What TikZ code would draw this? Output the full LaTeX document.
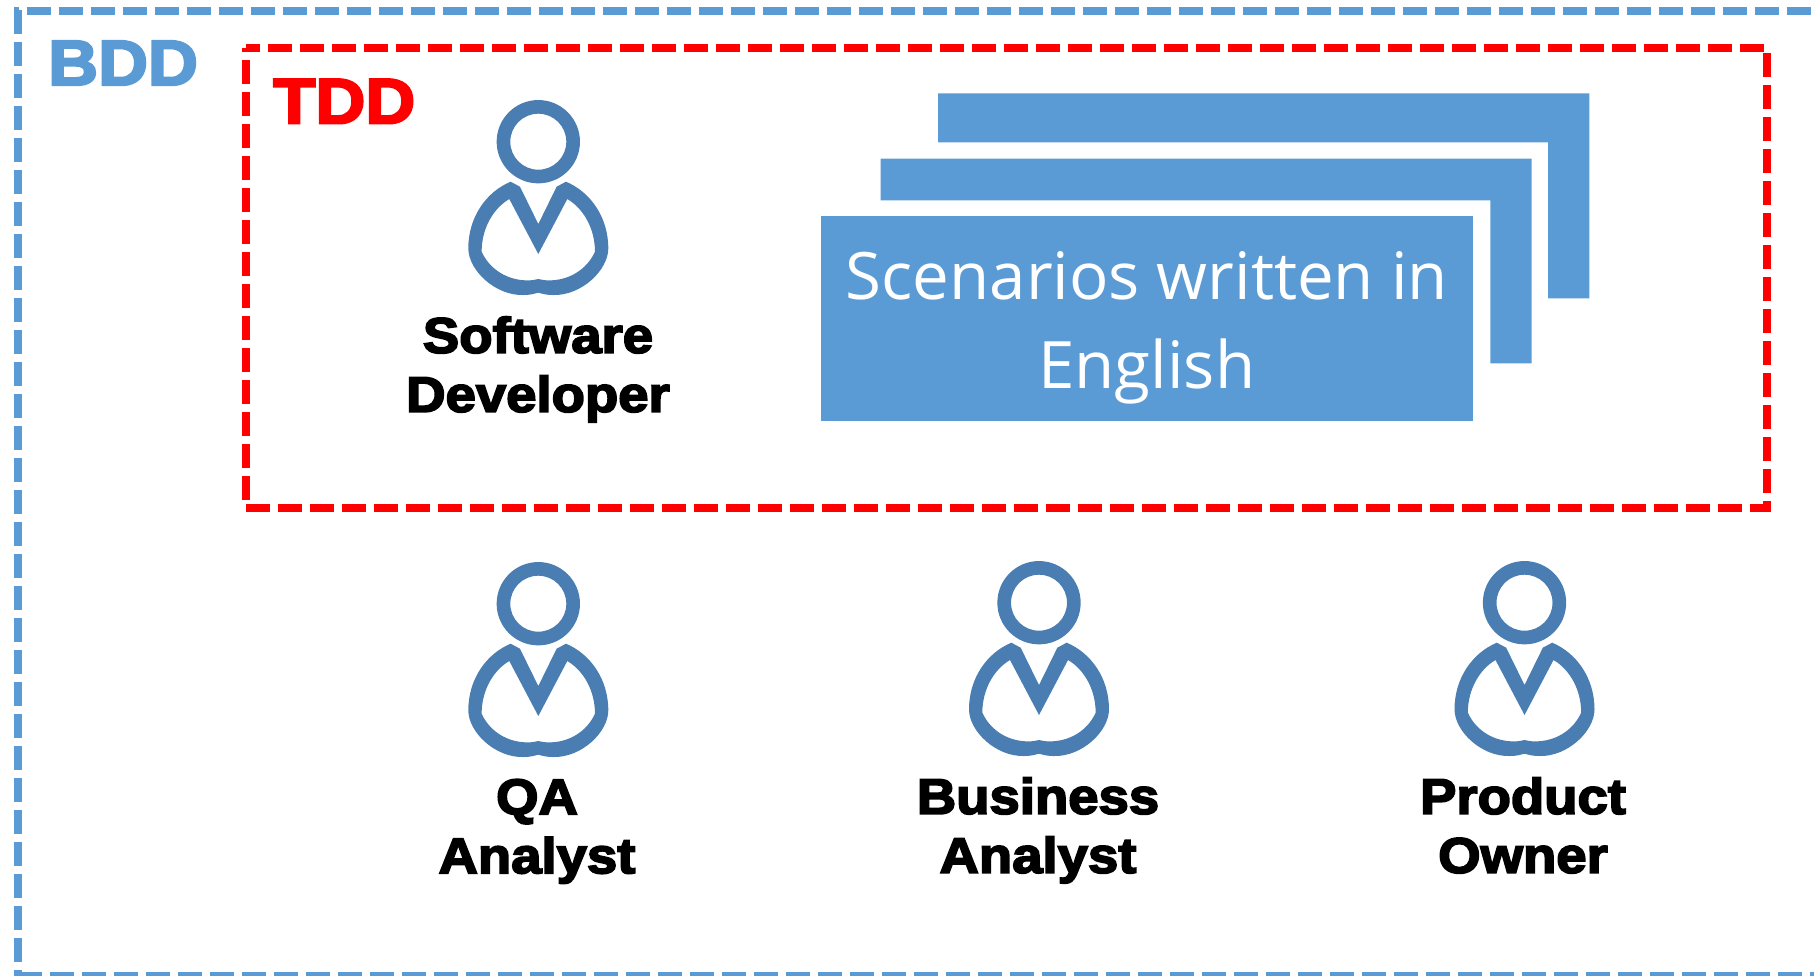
\documentclass[tikz,border=0pt]{standalone}
\usepackage{fontspec}
\setmainfont{Liberation Sans}
\newfontfamily\lblfont[FakeBold=3.6,FakeStretch=1.09]{Liberation Sans Bold}
\newfontfamily\frmfont[FakeBold=3.6,FakeStretch=1.08]{Liberation Sans Bold}
\newfontfamily\scnfont{Open Sans}
\definecolor{bddblue}{HTML}{5B9BD5}
\definecolor{personblue}{HTML}{4A7EB3}
\definecolor{tddred}{HTML}{FF0000}
\tikzset{
  x=1pt,y=-1pt,
  bddframe/.style={draw=bddblue,line width=8pt,dash pattern=on 24pt off 8pt},
  tddframe/.style={draw=tddred,line width=8pt,dash pattern=on 24pt off 8pt,dash phase=10pt,miter limit=10},
  bracket/.style={fill=bddblue,draw=none},
  card/.style={fill=bddblue,draw=none},
  rolelabel/.style={align=center,font=\lblfont\fontsize{50}{59}\selectfont,text=black,inner sep=0pt},
  framelabel/.style={font=\frmfont\fontsize{64}{64}\selectfont,inner sep=0pt,anchor=base west},
  person/.pic={
    \begin{scope}[x=0.3333pt,y=-0.3333pt]
    \fill[personblue,even odd rule] (0,0) circle[radius=125] (0,0) circle[radius=84];
    \fill[personblue,even odd rule]
      (-83,120) -- (-55,135) -- (0,247) -- (55,135) -- (83,120)
      .. controls (155,150) and (210,225) .. (210,320)
      .. controls (210,385) and (130,462) .. (45,460)
      .. controls (25,460) and (15,457) .. (0,453)
      .. controls (-15,457) and (-25,460) .. (-45,460)
      .. controls (-130,462) and (-210,385) .. (-210,320)
      .. controls (-210,225) and (-155,150) .. (-83,120) -- cycle
      (-87,172) -- (0,337) -- (87,172)
      .. controls (135,200) and (170,260) .. (170,330)
      .. controls (145,385) and (90,417) .. (30,416)
      .. controls (18,416) and (10,414) .. (0,412)
      .. controls (-10,414) and (-18,416) .. (-30,416)
      .. controls (-90,417) and (-145,385) .. (-170,330)
      .. controls (-170,260) and (-135,200) .. (-87,172) -- cycle;
    \end{scope}
  }
}
\newcommand{\rolestrut}{\vphantom{Apg}}
\begin{document}
\begin{tikzpicture}
\useasboundingbox (0,0) rectangle (1814,975);
% frames
\draw[bddframe,dash phase=19.3pt] (14,10.7) -- (1830,10.7);
\draw[bddframe] (18,10.3) -- (18,980);
\draw[bddframe,dash phase=0.3pt] (18,976) -- (1830,976);
\draw[tddframe] (246,48) -- (1767.3,48) -- (1767.3,507.5) -- (246,507.5) -- cycle;
\node[framelabel,text=bddblue] (bdd) at (48,85) {BDD};
\node[framelabel,text=tddred] (tdd) at (273,123.3) {TDD};
% stacked cards
\fill[bracket] (938,93.3) -- (1589.3,93.3) -- (1589.3,298.3) -- (1548,298.3) -- (1548,142.3) -- (938,142.3) -- cycle;
\fill[bracket] (880.5,158.7) -- (1531.7,158.7) -- (1531.7,363.3) -- (1490.3,363.3) -- (1490.3,200.3) -- (880.5,200.3) -- cycle;
\node[card,anchor=north west,minimum width=651.7pt,minimum height=205pt,inner sep=0pt] (scn) at (821,216) {};
\node[inner sep=0pt,align=center,text=white,font=\scnfont\fontsize{65.4}{89}\selectfont] (scntext) at (1146.8,327.5) {Scenarios written in\\English};
% people
\pic at (538.3,141.7) {person};
\pic at (538.3,603.7) {person};
\pic at (1039,602.7) {person};
\pic at (1524.5,602.7) {person};
\node[rolelabel] (dev) at (538,369.5) {Software\rolestrut\\Developer\rolestrut};
\node[rolelabel] (qa) at (537,831.5) {QA\rolestrut\\Analyst\rolestrut};
\node[rolelabel] (ba) at (1038,830.5) {Business\rolestrut\\Analyst\rolestrut};
\node[rolelabel] (po) at (1523,830.5) {Product\rolestrut\\Owner\rolestrut};
\end{tikzpicture}
\end{document}
